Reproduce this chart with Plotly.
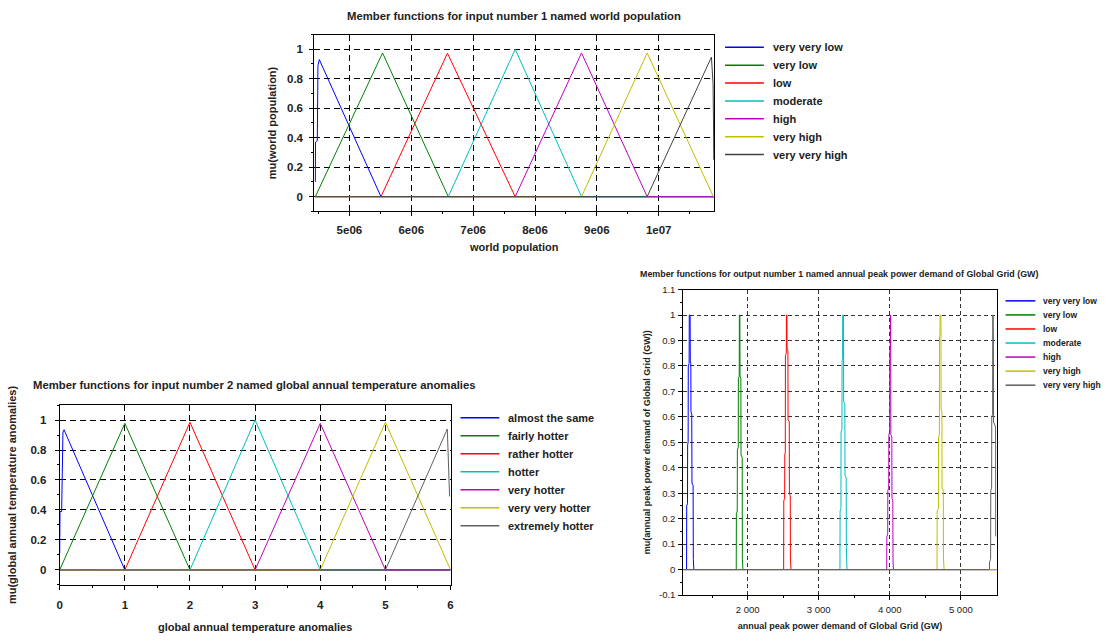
import plotly.graph_objects as go

W, H = 1108, 642
FONT = "Liberation Sans, Arial, sans-serif"

# ---------------- data ----------------
colors1 = ["#0000ff", "#008000", "#ff0000", "#00bfbf", "#bf00bf", "#bfbf00", "#404040"]
colors2 = ["#0000ff", "#008000", "#ff0000", "#00bfbf", "#bf00bf", "#bfbf00", "#606060"]

# Input 1: world population
pop_title = "Member functions for input number 1 named world population"
pop_xlabel = "world population"
pop_ylabel = "mu(world population)"
pop_names = ["very very low", "very low", "low", "moderate", "high", "very high", "very very high"]
pop_x = [
    [4.449e6, 4.452e6, 4.481e6, 4.484e6, 4.4915e6, 4.513e6, 5.51e6, 10.8955e6],
    [4.449e6, 5.536e6, 6.598e6, 10.8955e6],
    [4.449e6, 5.51e6, 6.585e6, 7.68e6, 10.8955e6],
    [4.449e6, 6.598e6, 7.68e6, 8.752e6, 10.8955e6],
    [4.449e6, 7.68e6, 8.752e6, 9.813e6, 10.8955e6],
    [4.449e6, 8.752e6, 9.813e6, 10.884e6],
    [4.449e6, 9.813e6, 10.852e6, 10.878e6, 10.885e6, 10.89e6],
]
pop_y = [
    [0.10, 0.37, 0.38, 0.63, 0.89, 0.93, 0, 0],
    [0, 0.975, 0, 0],
    [0, 0, 0.973, 0, 0],
    [0, 0, 1.0, 0, 0],
    [0, 0, 0.975, 0, 0],
    [0, 0, 0.975, 0],
    [0, 0, 0.947, 0.77, 0.52, 0.25],
]
pop_range = [4.4325e6, 10.8955e6]
pop_ticks = [5e6, 6e6, 7e6, 8e6, 9e6, 1e7]
pop_ticktext = ["5e06", "6e06", "7e06", "8e06", "9e06", "1e07"]
pop_minor = [4.5e6, 5.5e6, 6.5e6, 7.5e6, 8.5e6, 9.5e6, 10.5e6]

# Input 2: global annual temperature anomalies
tmp_title = "Member functions for input number 2 named global annual temperature anomalies"
tmp_xlabel = "global annual temperature anomalies"
tmp_ylabel = "mu(global annual temperature anomalies)"
tmp_names = ["almost the same", "fairly hotter", "rather hotter", "hotter",
             "very hotter", "very very hotter", "extremely hotter"]
tmp_x = [
    [0.0, 0.005, 0.03, 0.035, 0.05, 0.067, 1.0, 6.0],
    [0, 1, 2, 6],
    [0, 1, 2, 3, 6],
    [0, 2, 3, 4, 6],
    [0, 3, 4, 5, 6],
    [0, 4, 5, 6],
    [0, 5, 5.95, 5.965, 5.975, 5.985],
]
tmp_y = [
    [0.11, 0.39, 0.39, 0.65, 0.92, 0.935, 0, 0],
    [0, 0.978, 0, 0],
    [0, 0, 0.985, 0, 0],
    [0, 0, 1.0, 0, 0],
    [0, 0, 0.978, 0, 0],
    [0, 0, 0.985, 0],
    [0, 0, 0.94, 0.78, 0.62, 0.49],
]
tmp_range = [0, 6]
tmp_ticks = [0, 1, 2, 3, 4, 5, 6]
tmp_ticktext = ["0", "1", "2", "3", "4", "5", "6"]
tmp_minor = [0.5, 1.5, 2.5, 3.5, 4.5, 5.5]

# Output 1: annual peak power demand of Global Grid (GW)
out_title = "Member functions for output number 1 named annual peak power demand of Global Grid (GW)"
out_xlabel = "annual peak power demand of Global Grid (GW)"
out_ylabel = "mu(annual peak power demand of Global Grid (GW))"
out_names = ["very very low", "very low", "low", "moderate", "high", "very high", "very very high"]
out_x = [
    [1095, 1141, 1143, 1154, 1156, 1163, 1165, 1177, 1179, 1191, 1193, 1201, 1203, 1214, 1217, 1233, 1236, 1244, 5503],
    [1095, 1840, 1842, 1854, 1856, 1868, 1870, 1882, 1884, 1891, 1893, 1905, 1907, 1924, 1926, 1934, 5503],
    [1095, 2507, 2509, 2521, 2523, 2530, 2532, 2544, 2546, 2553, 2555, 2567, 2569, 2586, 2588, 2600, 2602, 2610, 5503],
    [1095, 3299, 3301, 3313, 3315, 3327, 3329, 3336, 3338, 3349, 3351, 3368, 3370, 3387, 3389, 3398, 5503],
    [1095, 3957, 3959, 3971, 3973, 3985, 3987, 3999, 4001, 4007, 4009, 4013, 4015, 4029, 4031, 4043, 4046, 4052, 5503],
    [1095, 4665, 4667, 4684, 4686, 4698, 4700, 4706, 4708, 4720, 4722, 4734, 4736, 4753, 4755, 4764, 5503],
    [1095, 5402, 5404, 5419, 5421, 5433, 5435, 5447, 5449, 5455, 5458, 5460, 5489, 5491],
]
out_y = [
    [0, 0, 0.25, 0.26, 0.49, 0.50, 0.80, 0.81, 1.0, 1.0, 0.82, 0.81, 0.62, 0.61, 0.34, 0.33, 0.04, 0, 0],
    [0, 0, 0.22, 0.23, 0.47, 0.48, 0.75, 0.76, 1.0, 1.0, 0.76, 0.75, 0.45, 0.44, 0.04, 0, 0],
    [0, 0, 0.27, 0.28, 0.45, 0.46, 0.84, 0.85, 1.0, 1.0, 0.87, 0.86, 0.59, 0.58, 0.30, 0.29, 0.05, 0, 0],
    [0, 0, 0.23, 0.24, 0.54, 0.55, 0.82, 0.83, 1.0, 1.0, 0.66, 0.65, 0.37, 0.36, 0.09, 0, 0],
    [0, 0, 0.13, 0.14, 0.31, 0.32, 0.53, 0.54, 0.86, 0.87, 1.0, 1.0, 0.53, 0.52, 0.28, 0.27, 0.03, 0, 0],
    [0, 0, 0.23, 0.24, 0.52, 0.53, 0.91, 0.92, 1.0, 1.0, 0.63, 0.62, 0.32, 0.31, 0.05, 0, 0],
    [0, 0, 0.03, 0.04, 0.31, 0.32, 0.60, 0.61, 1.0, 1.0, 0.88, 0.58, 0.56, 0.13],
]
out_range = [1095, 5503]
out_ticks = [2000, 3000, 4000, 5000]
out_ticktext = ["2 000", "3 000", "4 000", "5 000"]
out_minor = [1500, 2500, 3500, 4500]
out_yticks = [-0.1, 0, 0.1, 0.2, 0.3, 0.4, 0.5, 0.6, 0.7, 0.8, 0.9, 1, 1.1]
out_yticktext = ["-0.1", "0", "0.1", "0.2", "0.3", "0.4", "0.5", "0.6", "0.7", "0.8", "0.9", "1", "1.1"]
out_yminor = [-0.05, 0.05, 0.15, 0.25, 0.35, 0.45, 0.55, 0.65, 0.75, 0.85, 0.95, 1.05]

mu_ticks = [0, 0.2, 0.4, 0.6, 0.8, 1]
mu_ticktext = ["0", "0.2", "0.4", "0.6", "0.8", "1"]
mu_minor = [-0.1, 0.1, 0.3, 0.5, 0.7, 0.9, 1.1]
mu_range = [-0.1, 1.1]

# ---------------- figure ----------------
def px(p):
    return p / W

def py(p):
    return 1 - p / H

fig = go.Figure()

for i, name in enumerate(pop_names):
    fig.add_trace(go.Scatter(x=pop_x[i], y=pop_y[i], mode="lines", name=name,
                             line=dict(color=colors1[i], width=1),
                             xaxis="x", yaxis="y", showlegend=False))
for i, name in enumerate(tmp_names):
    fig.add_trace(go.Scatter(x=tmp_x[i], y=tmp_y[i], mode="lines", name=name,
                             line=dict(color=colors2[i], width=1),
                             xaxis="x2", yaxis="y2", showlegend=False))
for i, name in enumerate(out_names):
    fig.add_trace(go.Scatter(x=out_x[i], y=out_y[i], mode="lines", name=name,
                             line=dict(color=colors2[i], width=1),
                             xaxis="x3", yaxis="y3", showlegend=False))


def axis(domain, rng, ticks, ticktext, minor, anchor, fs, tweight, title, tfs,
         tstand, lstand, dash, gcol):
    return dict(domain=domain, range=rng, anchor=anchor, tickmode="array",
                tickvals=ticks, ticktext=ticktext, ticks="outside", ticklen=4,
                tickcolor="#000", showline=True, mirror=True, linecolor="#000",
                linewidth=1, showgrid=True, gridcolor=gcol, griddash=dash,
                gridwidth=1, zeroline=False, ticklabelstandoff=lstand,
                tickfont=dict(family=FONT, size=fs, color="#222", weight=tweight),
                minor=dict(tickvals=minor, ticks="outside", ticklen=2,
                           tickcolor="#000", showgrid=False),
                title=dict(text=title, standoff=tstand,
                           font=dict(family=FONT, size=tfs, color="#222",
                                     weight="bold")))


d1x, d1y = [px(313), px(715)], [py(209), py(29)]
d2x, d2y = [px(57), px(450)], [py(589), py(406)]
d3x, d3y = [px(684), px(999)], [py(599.3), py(288.5)]

annotations = [
    dict(text=pop_title, x=px(514), y=py(10), xref="paper", yref="paper",
         showarrow=False, xanchor="center", yanchor="middle",
         font=dict(family=FONT, size=11.3, color="#222", weight="bold")),
    dict(text=tmp_title, x=px(253), y=py(386), xref="paper", yref="paper",
         showarrow=False, xanchor="center", yanchor="middle",
         font=dict(family=FONT, size=11.3, color="#222", weight="bold")),
    dict(text=out_title, x=px(841), y=py(273), xref="paper", yref="paper",
         showarrow=False, xanchor="center", yanchor="middle",
         font=dict(family=FONT, size=8.9, color="#222", weight="bold")),
]
shapes = []


def add_legend(names, cols, x0, x1, xt, ytop, step, fs):
    # legend entries built from the series names and their colours
    for i, name in enumerate(names):
        yy = ytop + i * step
        shapes.append(dict(type="line", xref="paper", yref="paper",
                           x0=px(x0), x1=px(x1), y0=py(yy), y1=py(yy),
                           line=dict(color=cols[i], width=1.5)))
        annotations.append(dict(text=name, x=px(xt), y=py(yy), xref="paper",
                                yref="paper", showarrow=False, xanchor="left",
                                yanchor="middle",
                                font=dict(family=FONT, size=fs, color="#222",
                                          weight="bold")))


add_legend(pop_names, colors1, 726, 765, 772, 42, 18.2, 11)
add_legend(tmp_names, colors2, 460, 499, 506, 419, 18.3, 11)
add_legend(out_names, colors2, 1008, 1038, 1044, 300, 14.3, 8.5)

fig.update_layout(
    width=W, height=H, margin=dict(l=0, r=0, t=0, b=0),
    paper_bgcolor="white", plot_bgcolor="white",
    font=dict(family=FONT, color="#222"),
    xaxis=axis(d1x, pop_range, pop_ticks, pop_ticktext, pop_minor, "y", 11.5, "bold",
               pop_xlabel, 11, 8, 4, "6px,4px", "#000"),
    yaxis=axis(d1y, mu_range, mu_ticks, mu_ticktext, mu_minor, "x", 11.5, "bold",
               pop_ylabel, 11, 8, 4, "6px,4px", "#000"),
    xaxis2=axis(d2x, tmp_range, tmp_ticks, tmp_ticktext, tmp_minor, "y2", 11.5, "bold",
                tmp_xlabel, 11, 13, 5, "6px,4px", "#000"),
    yaxis2=axis(d2y, mu_range, mu_ticks, mu_ticktext, mu_minor, "x2", 11.5, "bold",
                tmp_ylabel, 11, 11, 6, "6px,4px", "#000"),
    xaxis3=axis(d3x, out_range, out_ticks, out_ticktext, out_minor, "y3", 9.5, "normal",
                out_xlabel, 9, 8, 2, "4px,3px", "#333"),
    yaxis3=axis(d3y, mu_range, out_yticks, out_yticktext, out_yminor, "x3", 9.5, "normal",
                out_ylabel, 9, 6, 1, "4px,3px", "#333"),
    annotations=annotations,
    shapes=shapes,
    showlegend=False,
)

fig.write_html("out.html", config={"displayModeBar": False},
               post_script="document.body.style.margin='0';")
